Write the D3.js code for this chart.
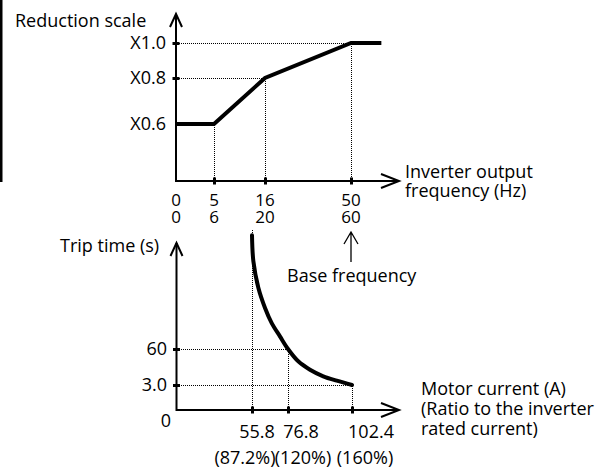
<!DOCTYPE html>
<html>
<head>
<meta charset="utf-8">
<script src="https://cdn.jsdelivr.net/npm/d3@7"></script>
<style>
body { margin: 0; background: #fff; }
svg text { font-family: "Open Sans", sans-serif; font-size: 18px; fill: #000; }
svg text.tk { font-size: 17px; }
</style>
</head>
<body>
<svg id="chart" width="608" height="473"></svg>
<script>
// top chart: reduction scale vs inverter output frequency
const freqTicks = [0, 5, 16, 50];
const freqTicks60 = ["0", "6", "20", "60"];
const scaleTicks = [0.6, 0.8, 1.0];
const scaleTickLabels = ["X0.6", "X0.8", "X1.0"];
const reductionFreq = [0, 5, 16, 50, 62];
const reductionScale = [0.6, 0.6, 0.8, 1.0, 1.0];

// bottom chart: trip time vs motor current
const currentTicks = [55.8, 76.8, 102.4];
const currentRatio = ["(87.2%)", "(120%)", "(160%)"];
const timeTicks = [3, 60];
const timeTickLabels = ["3.0", "60"];
const tripCurrent = [55.8, 56.6, 59.5, 63.4, 67.3, 72.1, 76.8, 80.9, 85.6, 90.9, 96.3, 102.4];
const tripTime = [240, 199, 157, 125, 101, 80, 60, 40.5, 27.2, 16.8, 9.8, 3];

const svg = d3.select("#chart");

// odd little border bar at the left edge of the original
svg.append("rect").attr("x", 0).attr("y", 0).attr("width", 2.5).attr("height", 182).attr("fill", "#000");

// axes are not to scale in the original, so piecewise scales
const x1 = d3.scaleLinear().domain([0, 5, 16, 50]).range([176, 214, 265, 351]);
const y1 = d3.scaleLinear().domain([0, 0.6, 0.8, 1.0]).range([181, 124, 78, 43]);
const x2 = d3.scaleLinear().domain([0, 55.8, 76.8, 102.4]).range([176.5, 252, 288, 352]);
const y2 = d3.scaleLinear().domain([0, 3, 60]).range([410, 385, 349]);

function dotted(g, xa, ya, xb, yb) {
    g.append("line")
        .attr("x1", xa + 0.5).attr("y1", ya + 0.5).attr("x2", xb + 0.5).attr("y2", yb + 0.5)
        .attr("stroke", "#000").attr("stroke-width", 1).attr("stroke-dasharray", "1,1")
        .attr("shape-rendering", "crispEdges");
}

// draws both axis lines with open arrow heads
function axisLines(g, x0, y0, xEnd, yEnd) {
    g.append("path")
        .attr("d", `M${x0},${yEnd}V${y0}H${xEnd}`)
        .attr("fill", "none").attr("stroke", "#000").attr("stroke-width", 2);
    g.append("path")
        .attr("d", `M${x0 - 6},${yEnd + 13}L${x0},${yEnd}L${x0 + 6},${yEnd + 13}`)
        .attr("fill", "none").attr("stroke", "#000").attr("stroke-width", 2);
    g.append("path")
        .attr("d", `M${xEnd - 18},${y0 - 7}L${xEnd},${y0}L${xEnd - 18},${y0 + 7}`)
        .attr("fill", "none").attr("stroke", "#000").attr("stroke-width", 2);
}

function tickMarks(g, axis, transform, vertical) {
    let a = g.append("g").attr("transform", transform).call(axis);
    a.select(".domain").remove();
    a.selectAll(".tick line").attr("stroke", "#000").attr("stroke-width", 3)
        .attr(vertical ? "x1" : "y1", -3.5).attr(vertical ? "x2" : "y2", 3.5);
    a.selectAll(".tick text").remove();
}

// ---------- top chart ----------
const topG = svg.append("g");

dotted(topG, x1(0), y1(1.0), x1(50), y1(1.0));
dotted(topG, x1(0), y1(0.8), x1(16), y1(0.8));
dotted(topG, x1(5), y1(0.6), x1(5), y1(0));
dotted(topG, x1(16), y1(0.8), x1(16), y1(0));
dotted(topG, x1(50), y1(1.0), x1(50), y1(0));

axisLines(topG, x1(0), y1(0), 399, 14);

tickMarks(topG, d3.axisBottom(x1).tickValues(freqTicks.slice(1)).tickSizeOuter(0), `translate(0,${y1(0)})`, false);
tickMarks(topG, d3.axisLeft(y1).tickValues([0.8, 1.0]).tickSizeOuter(0), `translate(${x1(0)},0)`, true);

const line1 = d3.line().x(d => x1(d[0])).y(d => y1(d[1]));
topG.append("path")
    .datum(d3.zip(reductionFreq, reductionScale))
    .attr("d", line1)
    .attr("fill", "none").attr("stroke", "#000").attr("stroke-width", 4);

topG.selectAll(".ylab").data(scaleTicks).join("text")
    .attr("x", 166).attr("y", d => y1(d)).attr("dy", "0.35em")
    .attr("text-anchor", "end")
    .text((d, i) => scaleTickLabels[i]);

// two-line tick labels (50 Hz base / 60 Hz base) packed tightly as in the original
const xlab = topG.selectAll(".xlab").data(freqTicks).join("text")
    .attr("class", "tk")
    .attr("text-anchor", "middle");
xlab.append("tspan").attr("x", d => x1(d)).attr("y", 206).text(d => d);
xlab.append("tspan").attr("x", d => x1(d)).attr("y", 223).text((d, i) => freqTicks60[i]);

topG.append("text").attr("x", 15).attr("y", 27).text("Reduction scale");
topG.append("text").attr("x", 405).attr("y", 178).text("Inverter output");
topG.append("text").attr("x", 405).attr("y", 197).text("frequency (Hz)");

// base frequency pointer
topG.append("path")
    .attr("d", `M${x1(50)},262V232M${x1(50) - 7},244L${x1(50)},232L${x1(50) + 7},244`)
    .attr("fill", "none").attr("stroke", "#000").attr("stroke-width", 1.3);
topG.append("text").attr("x", 287).attr("y", 282).text("Base frequency");

// ---------- bottom chart ----------
const botG = svg.append("g");

dotted(botG, x2(0), y2(60), x2(76.8), y2(60));
dotted(botG, x2(0), y2(3), x2(102.4), y2(3));
dotted(botG, x2(55.8), 229, x2(55.8), y2(0));
dotted(botG, x2(76.8), y2(60), x2(76.8), y2(0));
dotted(botG, x2(102.4), y2(3), x2(102.4), y2(0));

axisLines(botG, x2(0), y2(0), 399, 243);

tickMarks(botG, d3.axisBottom(x2).tickValues(currentTicks).tickSizeOuter(0), `translate(0,${y2(0)})`, false);
tickMarks(botG, d3.axisLeft(y2).tickValues(timeTicks).tickSizeOuter(0), `translate(${x2(0)},0)`, true);

const line2 = d3.line().x(d => x2(d[0])).y(d => y2(d[1])).curve(d3.curveCatmullRom);
botG.append("path")
    .datum(d3.zip(tripCurrent, tripTime))
    .attr("d", line2)
    .attr("fill", "none").attr("stroke", "#000").attr("stroke-width", 4)
    .attr("stroke-linecap", "round");

botG.selectAll(".ylab").data(timeTicks).join("text")
    .attr("x", 167).attr("y", d => y2(d)).attr("dy", "0.35em")
    .attr("text-anchor", "end")
    .text((d, i) => timeTickLabels[i]);
botG.append("text").attr("x", 166).attr("y", 427).attr("text-anchor", "middle").text("0");

// labels sit a bit off their ticks in the original
const row1Shift = [5, 13, 19];
const row2Shift = [-7, 15, 13];
botG.selectAll(".xlab").data(currentTicks).join("text")
    .attr("x", (d, i) => x2(d) + row1Shift[i]).attr("y", 438)
    .attr("text-anchor", "middle")
    .text(d => d);
botG.selectAll(".xlab2").data(currentTicks).join("text")
    .attr("x", (d, i) => x2(d) + row2Shift[i]).attr("y", 464)
    .attr("text-anchor", "middle")
    .text((d, i) => currentRatio[i]);

botG.append("text").attr("x", 60).attr("y", 252).text("Trip time (s)");
botG.append("text").attr("x", 421).attr("y", 395).text("Motor current (A)");
botG.append("text").attr("x", 421).attr("y", 415).text("(Ratio to the inverter");
botG.append("text").attr("x", 421).attr("y", 435).text("rated current)");
</script>
</body>
</html>
